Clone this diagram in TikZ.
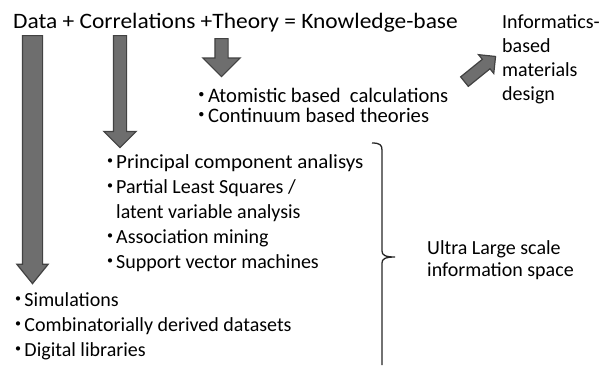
\documentclass[tikz,border=0pt]{standalone}
\usepackage{fontspec}
\setmainfont{Carlito}
\newfontfamily\cjk{Noto Sans CJK JP}
\newfontfamily\widefont[FakeStretch=1.05]{Carlito}
\newfontfamily\titlefont[FakeStretch=1.065]{Carlito}
\usetikzlibrary{shapes.arrows}

\definecolor{arrowfill}{HTML}{6e6e6e}
\definecolor{arrowline}{HTML}{424242}
\newcommand{\bul}{\makebox[0.6em][c]{\smash{\cjk ・}}}

\begin{document}
\begin{tikzpicture}[x=1pt,y=-1pt]
\tikzset{
  txt/.style={anchor=base west,inner sep=0pt,font=\fontsize{20}{24}\selectfont},
  widetxt/.style={txt,font=\fontsize{20}{24}\widefont},
  titletxt/.style={txt,font=\fontsize{22}{26}\titlefont},
  blockarrow/.style={single arrow,draw=arrowline,fill=arrowfill,line width=1.2pt,
    inner xsep=0pt,single arrow head indent=0pt,anchor=tail},
  bracepen/.style={line width=1.3pt,black!85}
}
\useasboundingbox (0,0) rectangle (599,365);
% headline
\node[titletxt] (title) at (13,28.5) {Data + Correlations +Theory = Knowledge-base};
% block arrows
\node[blockarrow,rotate=-90,minimum height=248pt,inner ysep=9.5pt,
  single arrow head extend=5.5pt,single arrow tip angle=78] (a_data) at (32.5,35) {};
\node[blockarrow,rotate=-90,minimum height=112pt,inner ysep=6pt,
  single arrow head extend=9.5pt] (a_corr) at (120,35) {};
\node[blockarrow,rotate=-90,minimum height=38pt,inner ysep=6pt,
  single arrow head extend=12pt] (a_theory) at (221.5,38) {};
\node[blockarrow,rotate=39,minimum height=40pt,inner ysep=5.5pt,
  single arrow head extend=6pt] (a_design) at (464,82) {};
% theory
\node[txt,font=\fontsize{20.6}{24}\selectfont] (t_atom) at (195.5,102) {\bul Atomistic based\ \ calculations};
\node[txt,font=\fontsize{20.6}{24}\selectfont] (t_cont) at (195.5,122.5) {\bul Continuum based theories};
% correlations
\node[widetxt] (c_pca) at (104,168) {\bul Principal component analisys};
\node[txt] (c_pls) at (104,193) {\bul Partial Least Squares /};
\node[txt] (c_lat) at (116,218) {latent variable analysis};
\node[txt] (c_assoc) at (104,243) {\bul Association mining};
\node[txt] (c_svm) at (104,268) {\bul Support vector machines};
% data
\node[txt] (d_sim) at (12.3,306) {\bul Simulations};
\node[txt] (d_comb) at (12.3,331) {\bul Combinatorially derived datasets};
\node[txt] (d_lib) at (12.3,356) {\bul Digital libraries};
% design
\node[txt] (g_1) at (502,28) {Informatics-};
\node[txt] (g_2) at (502,52) {based};
\node[txt] (g_3) at (502,76) {materials};
\node[txt] (g_4) at (502,100) {design};
% brace and its label
\draw[bracepen] (372,143) .. controls (380,143) and (382,145) .. (382,150) -- (382,251)
  .. controls (382,255) and (385,257) .. (395,257)
  .. controls (385,257) and (382,259) .. (382,263) -- (382,365);
\node[txt] (u_1) at (427,254) {Ultra Large scale};
\node[txt] (u_2) at (427,276) {information space};
\end{tikzpicture}
\end{document}
